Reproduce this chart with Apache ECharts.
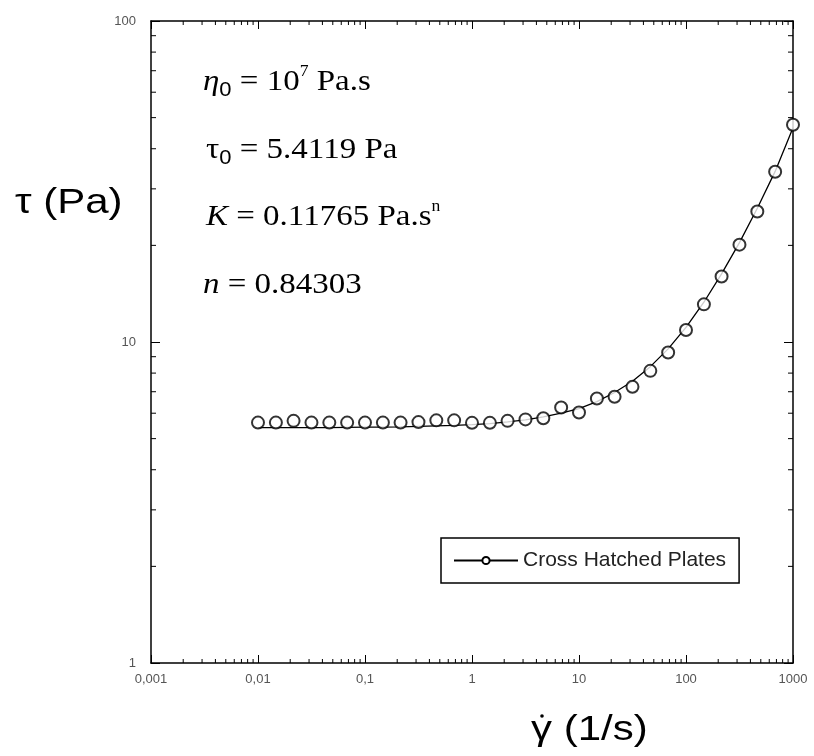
<!DOCTYPE html>
<html>
<head>
<meta charset="utf-8">
<script src="https://cdn.jsdelivr.net/npm/echarts@6/dist/echarts.min.js"></script>
<style>
  html, body { margin: 0; padding: 0; background: #fff; }
  #chart { width: 814px; height: 756px; }
</style>
</head>
<body>
<div id="chart"></div>
<script>
// shear rate (1/s), 6 points per decade
const shearRate = [0.01, 0.0147, 0.0215, 0.0316, 0.0464, 0.0681, 0.1, 0.147, 0.215, 0.316, 0.464, 0.681,
  1, 1.47, 2.15, 3.16, 4.64, 6.81, 10, 14.7, 21.5, 31.6, 46.4, 68.1, 100, 147, 215, 316, 464, 681, 1000];
// measured shear stress (Pa), circles
const stressMeasured = [5.61, 5.61, 5.68, 5.61, 5.61, 5.61, 5.61, 5.61, 5.61, 5.63, 5.70, 5.70,
  5.60, 5.60, 5.68, 5.74, 5.79, 6.25, 6.03, 6.67, 6.75, 7.25, 8.13, 9.27, 10.9, 13.1, 16.0, 20.1, 25.5, 33.9, 47.5];
// fitted curve (Pa), solid line
const stressFit = [5.41, 5.41, 5.41, 5.41, 5.41, 5.42, 5.43, 5.43, 5.44, 5.46, 5.48, 5.50,
  5.53, 5.57, 5.64, 5.72, 5.84, 6.00, 6.20, 6.52, 6.96, 7.55, 8.38, 9.52, 11.1, 13.3, 16.3, 20.4, 26.1, 34.0, 46.5];

const seriesName = 'Cross Hatched Plates';
const xRange = [0.001, 1000];
const yRange = [1, 100];

// minor ticks 2..9 of every decade (drawn on all four sides)
const xMinor = [];
for (let d = -3; d < 3; d++) for (let m = 2; m <= 9; m++) xMinor.push([m * Math.pow(10, d), 1]);
const yMinor = [];
for (let d = 0; d < 2; d++) for (let m = 2; m <= 9; m++) yMinor.push([0.001, m * Math.pow(10, d)]);

const chart = echarts.init(document.getElementById('chart'));

const tickStyle = { stroke: '#000', lineWidth: 1 };
const sans = 'Arial, "Liberation Sans", sans-serif';
const serif = '"Liberation Serif", "Times New Roman", serif';
const labelFont = { color: '#555', fontSize: 13, fontFamily: sans };

function fmt(v) {
  return String(Number(v.toPrecision(3))).replace('.', ',');
}

const rich = {
  t: { fontSize: 30, fontFamily: serif, lineHeight: 36, verticalAlign: 'middle', color: '#000' },
  i: { fontSize: 30, fontFamily: serif, fontStyle: 'italic', lineHeight: 36, verticalAlign: 'middle', color: '#000' },
  sub: { fontSize: 20, fontFamily: sans, lineHeight: 22, verticalAlign: 'bottom', color: '#000' },
  sup: { fontSize: 16, fontFamily: serif, lineHeight: 16, verticalAlign: 'top', color: '#000' }
};

chart.setOption({
  animation: false,
  backgroundColor: '#fff',
  grid: { left: 151, right: 21, top: 21, bottom: 93 },
  legend: {
    data: [seriesName],
    left: 441,
    top: 538,
    orient: 'horizontal',
    padding: [12, 13, 12, 12],
    itemWidth: 64,
    itemHeight: 9,
    itemGap: 5,
    borderColor: '#000',
    borderWidth: 1.5,
    textStyle: { color: '#222', fontSize: 21, fontFamily: sans }
  },
  xAxis: [
    {
      type: 'log', logBase: 10, min: xRange[0], max: xRange[1],
      axisLine: { lineStyle: { color: '#000', width: 1.5 } },
      axisTick: { inside: true, length: 8, lineStyle: { color: '#000', width: 1 } },
      axisLabel: Object.assign({ margin: 10, formatter: fmt }, labelFont),
      splitLine: { show: false }
    },
    {
      type: 'log', logBase: 10, min: xRange[0], max: xRange[1], position: 'top',
      axisLine: { lineStyle: { color: '#000', width: 1.5 } },
      axisTick: { inside: true, length: 8, lineStyle: { color: '#000', width: 1 } },
      axisLabel: { show: false },
      splitLine: { show: false }
    }
  ],
  yAxis: [
    {
      type: 'log', logBase: 10, min: yRange[0], max: yRange[1],
      axisLine: { lineStyle: { color: '#000', width: 1.5 } },
      axisTick: { inside: true, length: 9, lineStyle: { color: '#000', width: 1 } },
      axisLabel: Object.assign({ margin: 15, formatter: fmt }, labelFont),
      splitLine: { show: false }
    },
    {
      type: 'log', logBase: 10, min: yRange[0], max: yRange[1], position: 'right',
      axisLine: { lineStyle: { color: '#000', width: 1.5 } },
      axisTick: { inside: true, length: 9, lineStyle: { color: '#000', width: 1 } },
      axisLabel: { show: false },
      splitLine: { show: false }
    }
  ],
  series: [
    {
      name: seriesName,
      type: 'line',
      data: shearRate.map((x, i) => [x, stressFit[i]]),
      symbol: 'emptyCircle',
      showSymbol: false,
      lineStyle: { color: '#000', width: 1.3 },
      itemStyle: { color: '#000' },
      z: 2
    },
    {
      name: 'points',
      type: 'scatter',
      data: shearRate.map((x, i) => [x, stressMeasured[i]]),
      symbol: 'emptyCircle',
      symbolSize: 12,
      itemStyle: { color: '#000', borderColor: '#000', borderWidth: 1.3 },
      z: 3
    },
    {
      type: 'custom',
      silent: true,
      data: xMinor,
      renderItem: function (params, api) {
        const v = api.value(0);
        const b = api.coord([v, yRange[0]]);
        const t = api.coord([v, yRange[1]]);
        return {
          type: 'group',
          children: [
            { type: 'line', shape: { x1: b[0], y1: b[1], x2: b[0], y2: b[1] - 4 }, style: tickStyle },
            { type: 'line', shape: { x1: t[0], y1: t[1], x2: t[0], y2: t[1] + 4 }, style: tickStyle }
          ]
        };
      }
    },
    {
      type: 'custom',
      silent: true,
      data: yMinor,
      renderItem: function (params, api) {
        const v = api.value(1);
        const l = api.coord([xRange[0], v]);
        const r = api.coord([xRange[1], v]);
        return {
          type: 'group',
          children: [
            { type: 'line', shape: { x1: l[0], y1: l[1], x2: l[0] + 5, y2: l[1] }, style: tickStyle },
            { type: 'line', shape: { x1: r[0], y1: r[1], x2: r[0] - 5, y2: r[1] }, style: tickStyle }
          ]
        };
      }
    }
  ],
  graphic: [
    {
      type: 'text', x: 15, y: 186, scaleX: 1.2,
      style: { text: 'τ (Pa)', fill: '#000', font: '35px ' + sans }
    },
    {
      type: 'group', x: 531, y: 713,
      children: [
        { type: 'text', x: 0, y: 0, scaleX: 1.2, style: { text: 'γ (1/s)', fill: '#000', font: '35px ' + sans } },
        { type: 'circle', shape: { cx: 11, cy: 3, r: 1.8 }, style: { fill: '#000' } }
      ]
    },
    {
      type: 'text', x: 203, y: 64, scaleX: 1.1,
      style: { text: '{i|η}{sub|0}{t| = 10}{sup|7}{t| Pa.s}', rich: rich }
    },
    {
      type: 'text', x: 206, y: 132, scaleX: 1.1,
      style: { text: '{t|τ}{sub|0}{t| = 5.4119 Pa}', rich: rich }
    },
    {
      type: 'text', x: 206, y: 199, scaleX: 1.1,
      style: { text: '{i|K}{t| = 0.11765 Pa.s}{sup|n}', rich: rich }
    },
    {
      type: 'text', x: 203, y: 267, scaleX: 1.1,
      style: { text: '{i|n}{t| = 0.84303}', rich: rich }
    }
  ]
});
</script>
</body>
</html>
